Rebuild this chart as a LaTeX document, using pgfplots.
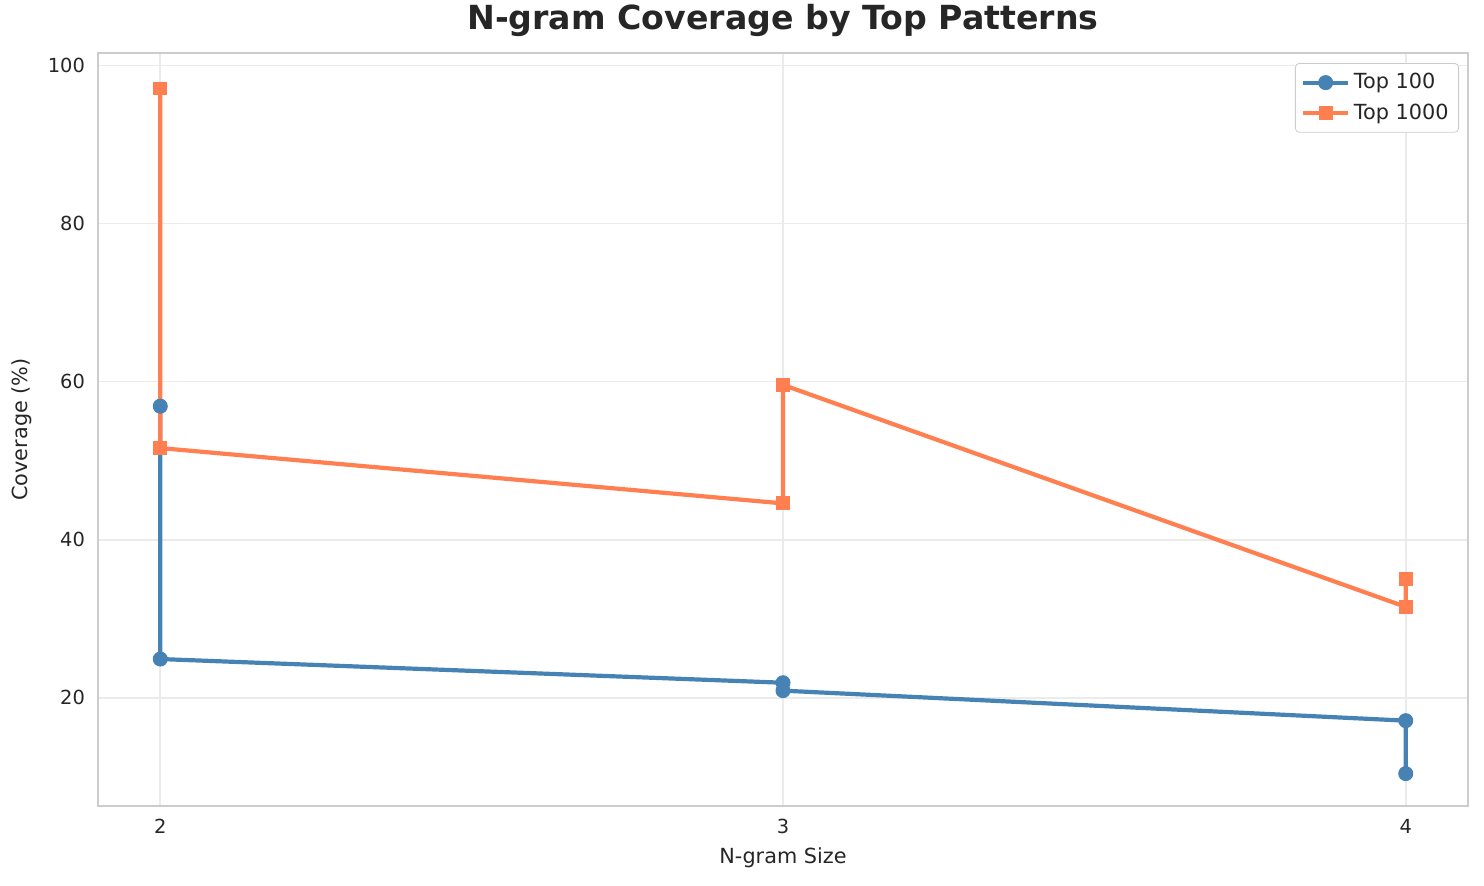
\documentclass[border=0pt]{standalone}
\usepackage{pgfplots}
\pgfplotsset{compat=1.18}
\usepackage{fontspec}
\setmainfont{DejaVu Sans}
\definecolor{steel}{HTML}{4682B4}
\definecolor{coral}{HTML}{FF7F50}
\definecolor{framegray}{HTML}{CCCCCC}
\definecolor{gridgray}{HTML}{EBEBEB}
\definecolor{txt}{HTML}{262626}
\begin{document}
\begin{tikzpicture}
\path[use as bounding box] (-49pt,-39.5pt) rectangle (693pt,403pt);
\begin{axis}[
  at={(0,0)}, anchor=south west,
  scale only axis, width=685pt, height=376.5pt,
  xmin=1.9, xmax=4.1, ymin=6.3, ymax=101.6,
  xtick={2,3,4}, ytick={20,40,60,80,100},
  /pgf/number format/assume math mode=true,
  tick style={draw=none},
  major tick length=0pt,
  grid=major,
  major grid style={draw=gridgray, line width=0.8pt},
  axis line style={draw=framegray, line width=0.9pt},
  ticklabel style={font=\fontsize{9.7}{11}\selectfont, text=txt},
  xticklabel style={yshift=-3pt},
  yticklabel style={xshift=-3pt},
  label style={font=\fontsize{10.4}{12}\selectfont, text=txt},
  xlabel={N-gram Size},
  ylabel={Coverage (\%)},
  xlabel style={at={(axis description cs:0.5,0)}, anchor=center, yshift=-26pt},
  ylabel style={at={(axis description cs:-0.0555,0.5)}, anchor=center, rotate=0},
  title={N-gram Coverage by Top Patterns},
  title style={font=\fontsize{16.6}{18}\selectfont\bfseries, text=txt, at={(axis description cs:0.5,1)}, anchor=base, yshift=5.5pt},
  legend style={at={(1,1)}, anchor=north east, xshift=-4.5pt, yshift=-5pt,
    draw=framegray, rounded corners=2pt, font=\fontsize{10.4}{13}\selectfont, text=txt,
    row sep=2pt, inner sep=3pt},
  legend cell align=left,
  legend image code/.code={
    \draw[#1, mark repeat=2, mark phase=2] plot coordinates {(0cm,0cm) (0.39cm,0cm) (0.78cm,0cm)};
  },
]
\addplot[steel, line width=2.1pt, mark=*, mark size=3.5pt, mark options={solid, draw=steel, fill=steel, line width=0.5pt}]
  coordinates {(2,56.9) (2,24.9) (3,21.9) (3,20.9) (4,17.1) (4,10.4)};
\addlegendentry{Top 100}
\addplot[coral, line width=2.1pt, mark=square*, mark size=3.2pt, mark options={solid, draw=coral, fill=coral, line width=0.5pt}]
  coordinates {(2,97.1) (2,51.6) (3,44.6) (3,59.6) (4,31.5) (4,35.0)};
\addlegendentry{Top 1000}
\end{axis}
\end{tikzpicture}
\end{document}
